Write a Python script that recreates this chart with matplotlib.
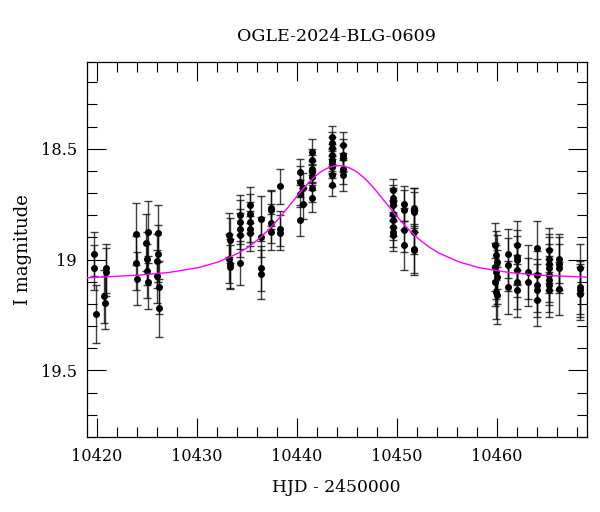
import numpy as np
import matplotlib
matplotlib.use("Agg")
import matplotlib.pyplot as plt
from matplotlib.ticker import MultipleLocator, FormatStrFormatter

plt.rcParams['font.family'] = ['DejaVu Serif']

# OGLE photometry (HJD - 2450000, I mag, error)
hjd = [10419.75, 10419.75, 10419.95, 10420.88, 10420.95, 10420.75, 10420.82,
       10423.94, 10423.94, 10424.04, 10424.97, 10425.15, 10425.05, 10425.05,
       10425.10, 10426.11, 10426.15, 10426.05, 10426.05, 10426.25, 10426.21,
       10433.25, 10433.32, 10433.25, 10433.35, 10433.35,
       10434.32, 10434.32, 10434.32, 10434.32, 10434.32,
       10435.36, 10435.36, 10435.36, 10435.36, 10435.36,
       10436.43, 10436.43, 10436.43, 10436.43,
       10437.44, 10437.44, 10437.44, 10437.44,
       10438.34, 10438.34, 10438.34,
       10440.30, 10440.30, 10440.30, 10440.30, 10440.60, 10440.60,
       10441.53, 10441.53, 10441.53, 10441.53, 10441.53, 10441.53, 10441.53,
       10443.54, 10443.54, 10443.54, 10443.54, 10443.54, 10443.54, 10443.54,
       10443.54, 10443.54,
       10444.64, 10444.64, 10444.64, 10444.64, 10444.64,
       10449.67, 10449.67, 10449.67, 10449.67, 10449.67, 10449.67, 10449.67,
       10449.67, 10449.67,
       10450.73, 10450.73, 10450.73, 10450.73,
       10451.74, 10451.74, 10451.74, 10451.74, 10451.74, 10451.74,
       10459.85, 10459.95, 10460.05, 10459.85, 10459.95, 10460.05, 10459.85,
       10459.95, 10460.05,
       10461.09, 10461.09, 10461.09,
       10462.06, 10462.06, 10462.06, 10462.06, 10462.06, 10462.06,
       10463.14, 10463.14,
       10464.07, 10464.07, 10464.07, 10464.07, 10464.07,
       10465.18, 10465.18, 10465.18, 10465.18, 10465.18, 10465.18, 10465.18,
       10465.18,
       10466.25, 10466.25, 10466.25, 10466.25,
       10468.29, 10468.29, 10468.29, 10468.29]
mag = [18.976, 19.036, 19.244, 19.040, 19.056, 19.166, 19.194,
       18.885, 19.015, 19.086, 18.923, 18.875, 18.995, 19.051,
       19.102, 18.882, 18.973, 19.006, 19.075, 19.124, 19.217,
       18.890, 18.913, 18.995, 19.018, 19.033,
       18.800, 18.830, 18.860, 18.890, 19.015,
       18.754, 18.792, 18.830, 18.860, 18.882,
       18.815, 18.898, 19.040, 19.066,
       18.769, 18.774, 18.837, 18.875,
       18.669, 18.860, 18.878,
       18.604, 18.649, 18.702, 18.822, 18.679, 18.747,
       18.514, 18.551, 18.589, 18.604, 18.627, 18.679, 18.724,
       18.446, 18.476, 18.498, 18.528, 18.551, 18.559, 18.581,
       18.619, 18.664,
       18.483, 18.528, 18.543, 18.589, 18.619,
       18.687, 18.724, 18.739, 18.754, 18.792, 18.822, 18.852,
       18.875, 18.890,
       18.747, 18.777, 18.867, 18.935,
       18.769, 18.777, 18.785, 18.875, 18.950, 18.958,
       18.935, 18.980, 19.011, 19.033, 19.056, 19.078, 19.101,
       19.146, 19.161,
       18.973, 19.022, 19.124,
       18.935, 18.988, 19.003, 19.048, 19.101, 19.139,
       19.056, 19.101,
       18.947, 19.071, 19.116, 19.139, 19.181,
       18.958, 18.995, 19.018, 19.040, 19.071, 19.093, 19.116,
       19.139,
       18.995, 19.018, 19.040, 19.131,
       19.040, 19.124, 19.139, 19.154]
err = [0.10, 0.10, 0.13, 0.11, 0.11, 0.12, 0.12,
       0.14, 0.12, 0.12, 0.13, 0.14, 0.12, 0.12,
       0.12, 0.13, 0.13, 0.12, 0.12, 0.12, 0.13,
       0.10, 0.10, 0.11, 0.11, 0.10,
       0.09, 0.10, 0.09, 0.10, 0.10,
       0.08, 0.09, 0.09, 0.08, 0.08,
       0.10, 0.09, 0.10, 0.11,
       0.08, 0.09, 0.09, 0.08,
       0.08, 0.08, 0.08,
       0.06, 0.07, 0.06, 0.07, 0.07, 0.07,
       0.06, 0.05, 0.06, 0.05, 0.06, 0.06, 0.06,
       0.05, 0.05, 0.05, 0.05, 0.05, 0.05, 0.05,
       0.05, 0.05,
       0.06, 0.07, 0.06, 0.07, 0.07,
       0.05, 0.06, 0.06, 0.07, 0.06, 0.07, 0.06,
       0.07, 0.07,
       0.08, 0.09, 0.10, 0.11,
       0.09, 0.10, 0.09, 0.10, 0.11, 0.11,
       0.10, 0.11, 0.12, 0.11, 0.12, 0.12, 0.11,
       0.12, 0.13,
       0.11, 0.12, 0.12,
       0.11, 0.12, 0.11, 0.12, 0.12, 0.12,
       0.12, 0.11,
       0.12, 0.11, 0.12, 0.12, 0.12,
       0.10, 0.11, 0.12, 0.11, 0.12, 0.11, 0.12,
       0.12,
       0.11, 0.12, 0.11, 0.12,
       0.11, 0.12, 0.12, 0.12]

# model curve
model_t = [10419.0, 10424.2, 10427.2, 10430.2, 10432.2, 10434.2, 10435.2,
           10436.2, 10437.2, 10438.2, 10438.7, 10439.2, 10439.7, 10440.2,
           10440.7, 10441.2, 10441.7, 10442.2, 10442.7, 10443.2, 10443.7,
           10444.2, 10444.7, 10445.2, 10445.7, 10446.2, 10446.7, 10447.2,
           10447.7, 10448.2, 10448.7, 10449.2, 10449.7, 10450.2, 10451.2,
           10452.2, 10453.2, 10454.2, 10456.2, 10458.2, 10461.2, 10464.2,
           10469.0]
model_mag = [19.082, 19.070, 19.058, 19.036, 19.010, 18.970, 18.942,
             18.907, 18.865, 18.815, 18.788, 18.760, 18.732, 18.704,
             18.677, 18.652, 18.630, 18.611, 18.596, 18.585, 18.578,
             18.576, 18.578, 18.585, 18.596, 18.611, 18.630, 18.652,
             18.677, 18.704, 18.732, 18.760, 18.788, 18.815, 18.865,
             18.907, 18.942, 18.970, 19.010, 19.036, 19.058, 19.070,
             19.079]

fig = plt.figure(figsize=(6.0, 5.12), dpi=100)
ax = fig.add_axes([0.1445, 0.1465, 0.8335, 0.7318])

ax.errorbar(hjd, mag, yerr=err, fmt='o', color='k', ms=4.0,
            ecolor=(0, 0, 0, 0.75), elinewidth=1.0, capsize=3.2, capthick=1.0,
            zorder=2)
ax.plot(model_t, model_mag, color='#ff00ff', lw=1.0, zorder=3)

ax.set_xlim(10419.0, 10469.0)
ax.set_ylim(19.80, 18.11)

ax.xaxis.set_major_locator(MultipleLocator(10))
ax.xaxis.set_minor_locator(MultipleLocator(2))
ax.yaxis.set_major_locator(MultipleLocator(0.5))
ax.yaxis.set_minor_locator(MultipleLocator(0.1))
ax.yaxis.set_major_formatter(FormatStrFormatter('%g'))

ax.tick_params(which='both', direction='in', top=True, right=True,
               width=0.8, labelsize=11.6)
ax.tick_params(which='major', length=14)
ax.tick_params(which='minor', length=7.5)
ax.tick_params(axis='x', pad=8)
ax.tick_params(axis='y', pad=7)
for s in ax.spines.values():
    s.set_linewidth(0.9)

ax.set_title('OGLE-2024-BLG-0609', fontsize=12.6, pad=15)
ax.set_xlabel('HJD - 2450000', fontsize=12.3, labelpad=10)
ax.set_ylabel('I magnitude', fontsize=13, labelpad=6)

fig.savefig('out.png', dpi=100)
